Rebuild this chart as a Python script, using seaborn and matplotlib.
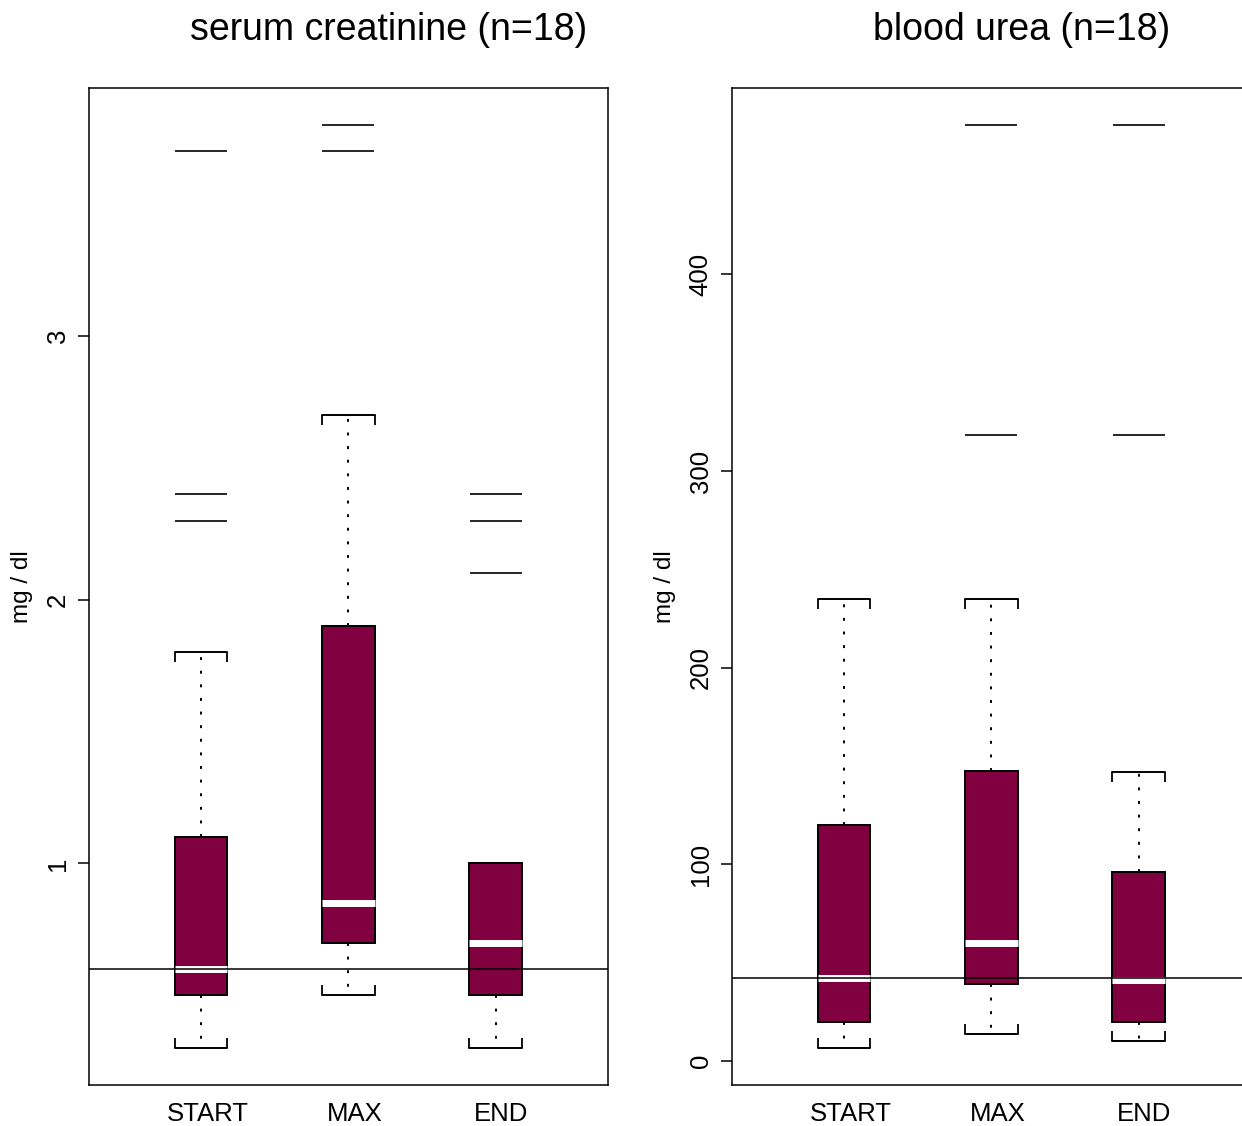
import matplotlib
matplotlib.use("Agg")
import matplotlib.pyplot as plt
import matplotlib.colors as mcolors
from matplotlib.transforms import ScaledTranslation
import numpy as np
import pandas as pd
import seaborn as sns

groups = ["START", "MAX", "END"]

crea_low = [0.3, 0.5, 0.3]
crea_q1 = [0.5, 0.7, 0.5]
crea_med = [0.6, 0.85, 0.7]
crea_q3 = [1.1, 1.9, 1.0]
crea_high = [1.8, 2.7, 1.0]
crea_out_group = ["START", "START", "START", "MAX", "MAX", "END", "END", "END"]
crea_out_value = [2.3, 2.4, 3.7, 3.7, 3.8, 2.1, 2.3, 2.4]
crea_ref = 0.6
crea_ticks = [1, 2, 3]

# blood urea
urea_low = [6.6, 13.7, 10.2]
urea_q1 = [20, 39, 20]
urea_med = [42, 60, 41]
urea_q3 = [120, 147.5, 96]
urea_high = [235, 235, 147]
urea_out_group = ["MAX", "MAX", "END", "END"]
urea_out_value = [318.5, 476, 318.5, 476]
urea_ref = 42
urea_ticks = [0, 100, 200, 300, 400]

FILL = "#800040"
BOXW = 0.354

sns.set_style("white")
plt.rcParams["font.family"] = ["Liberation Sans", "DejaVu Sans"]
plt.rcParams["text.color"] = "black"
plt.rcParams["axes.labelcolor"] = "black"
plt.rcParams["xtick.color"] = "black"
plt.rcParams["ytick.color"] = "black"


def panel(fig, ax, title, title_x, low, q1, med, q3, high, out_group, out_value, ref, ticks):
    box = pd.DataFrame({
        "group": np.repeat(groups, 5),
        "value": np.column_stack([low, q1, med, q3, high]).ravel(),
    })
    sns.boxplot(data=box, x="group", y="value", order=groups, ax=ax,
                whis=(0, 100), width=BOXW, color=FILL, saturation=1,
                linecolor="black", linewidth=1.4, showfliers=False,
                medianprops=dict(color="white", linewidth=5, solid_capstyle="butt"),
                whiskerprops=dict(linestyle=(0, (1.5, 5.5))))

    # R-style caps: full box width with little ticks toward the box
    caps = []
    for ln in ax.lines:
        x, y = np.asarray(ln.get_xdata(), float), np.asarray(ln.get_ydata(), float)
        if len(y) == 2 and y[0] == y[1] and x[0] != x[1] \
                and mcolors.to_hex(ln.get_color()) == "#000000":
            caps.append(ln)
    by_x = {}
    for ln in caps:
        xc = round(float(np.mean(ln.get_xdata())), 3)
        by_x.setdefault(xc, []).append(ln)
    for xc, lns in by_x.items():
        lns.sort(key=lambda l: l.get_ydata()[0])
        for i, ln in enumerate(lns):
            ln.set_xdata([xc - BOXW / 2, xc + BOXW / 2])
            ln.set_marker(2 if i == 0 else 3)
            ln.set_markersize(7)
            ln.set_markeredgewidth(1.3)
            ln.set_markeredgecolor("black")

    sns.stripplot(x=out_group, y=out_value, order=groups, ax=ax, jitter=False,
                  marker="_", size=37, color="black", edgecolor="black",
                  linewidth=1.2)

    ax.axhline(ref, color="black", linewidth=1.1, zorder=10)

    allv = list(low) + list(high) + list(out_value)
    lo, hi = min(allv), max(allv)
    r = hi - lo
    ax.set_ylim(lo - 0.04 * r, hi + 0.04 * r)
    ax.set_xlim(-0.765, 2.765)

    ax.set_yticks(ticks)
    ax.set_yticklabels([str(t) for t in ticks])
    ax.tick_params(axis="y", labelrotation=90, length=8, width=1.1, pad=6,
                   labelsize=18.5, left=True)
    ax.tick_params(axis="x", length=0, pad=12, labelsize=18.5)
    for lab in ax.get_yticklabels():
        lab.set_verticalalignment("center")
    shift = ScaledTranslation(6 / 100, 0, fig.dpi_scale_trans)
    for lab in ax.get_xticklabels():
        lab.set_transform(lab.get_transform() + shift)

    ax.set_xlabel("")
    ax.set_ylabel("mg / dl", fontsize=17.5)
    ax.yaxis.set_label_coords(-0.129, 0.5)
    ax.yaxis.label.set_verticalalignment("center")

    for s in ax.spines.values():
        s.set_visible(True)
        s.set_color("black")
        s.set_linewidth(1.1)

    ax.text(title_x, 1.058, title, transform=ax.transAxes, ha="center",
            va="center", fontsize=27)


fig = plt.figure(figsize=(12.42, 11.26), dpi=100)
ax1 = fig.add_axes([0.07166, 0.03641, 0.41787, 0.88544])
ax2 = fig.add_axes([0.58937, 0.03641, 0.41787, 0.88544])

panel(fig, ax1, "serum creatinine (n=18)", 0.578, crea_low, crea_q1, crea_med,
      crea_q3, crea_high, crea_out_group, crea_out_value, crea_ref, crea_ticks)
panel(fig, ax2, "blood urea (n=18)", 0.558, urea_low, urea_q1, urea_med,
      urea_q3, urea_high, urea_out_group, urea_out_value, urea_ref, urea_ticks)

fig.savefig("out.png", dpi=100)
